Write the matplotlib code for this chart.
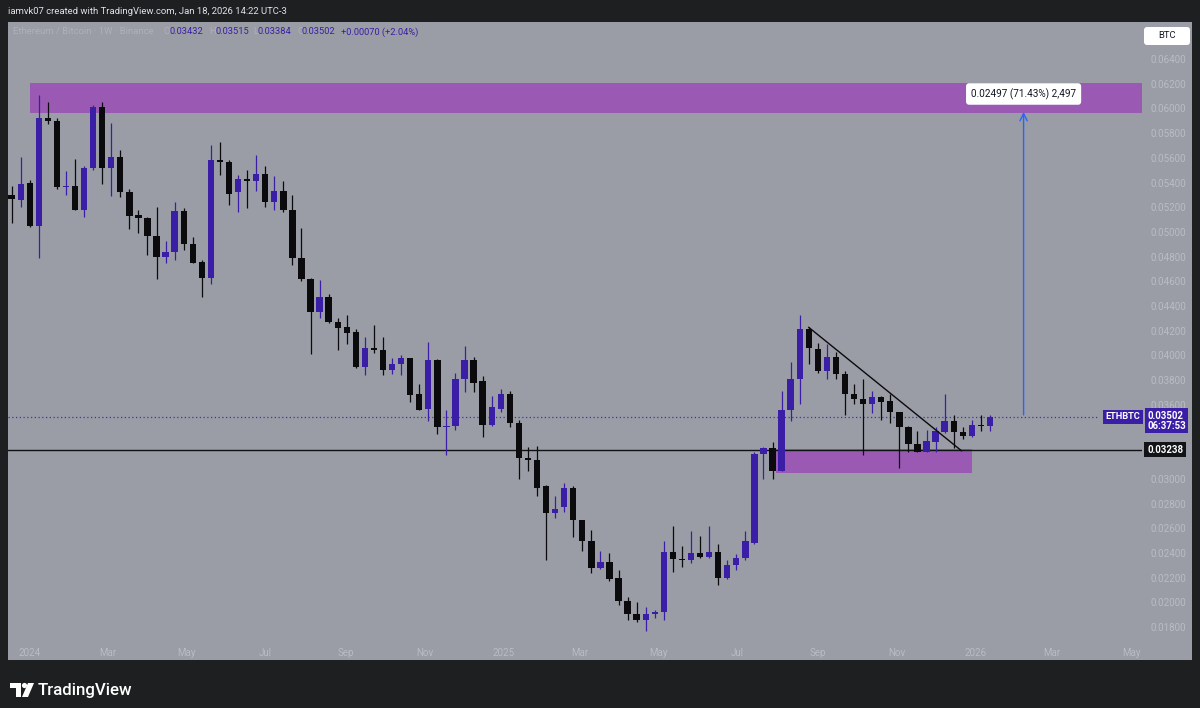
import matplotlib
matplotlib.use("Agg")
import matplotlib.pyplot as plt
from matplotlib.patches import Rectangle, Polygon, Circle, FancyBboxPatch
from matplotlib.transforms import blended_transform_factory
import pandas as pd

# weekly ETH/BTC candles, first bar week of 2023-12-18
first_week = "2023-12-18"
opens = [0.0530, 0.0526, 0.0540, 0.0505, 0.0592, 0.0590, 0.0536, 0.0537, 0.0518, 0.0552,
         0.0601, 0.0552, 0.0561, 0.0532, 0.0514, 0.0511, 0.0497, 0.0480, 0.0484, 0.0517,
         0.0490, 0.0476, 0.0463, 0.0558, 0.0557, 0.0532, 0.0543, 0.0541, 0.0547, 0.0524,
         0.0533, 0.0518, 0.0479, 0.0462, 0.0435, 0.0447, 0.0427, 0.0423, 0.0419, 0.0391,
         0.0406, 0.0404, 0.0388, 0.0393, 0.0398, 0.0369, 0.0357, 0.0396, 0.0342, 0.0343,
         0.0381, 0.0396, 0.0379, 0.0344, 0.0357, 0.0369, 0.0345, 0.0317, 0.0315, 0.0294,
         0.0272, 0.0277, 0.0293, 0.0267, 0.0250, 0.0228, 0.0233, 0.0220, 0.0201, 0.0191,
         0.0186, 0.0191, 0.0192, 0.0241, 0.0235, 0.0234, 0.0240, 0.0237, 0.0241, 0.0220,
         0.0230, 0.0236, 0.0248, 0.0320, 0.0325, 0.0306, 0.0356, 0.0381, 0.0421, 0.0405,
         0.0387, 0.0399, 0.0385, 0.0369, 0.0365, 0.0361, 0.0366, 0.0363, 0.0354, 0.0342,
         0.0328, 0.0322, 0.0330, 0.0338, 0.0347, 0.0338, 0.0335, 0.0344, 0.03432]
highs = [0.0537, 0.0561, 0.0542, 0.0611, 0.0605, 0.0592, 0.0549, 0.0559, 0.0553, 0.0603,
         0.0605, 0.0588, 0.0566, 0.0535, 0.0518, 0.0512, 0.0520, 0.0493, 0.0524, 0.0519,
         0.0496, 0.0477, 0.0570, 0.0573, 0.0558, 0.0546, 0.0550, 0.0562, 0.0553, 0.0545,
         0.0541, 0.0530, 0.0503, 0.0463, 0.0461, 0.0450, 0.0430, 0.0433, 0.0421, 0.0415,
         0.0425, 0.0415, 0.0398, 0.0400, 0.0398, 0.0377, 0.0411, 0.0397, 0.0356, 0.0386,
         0.0408, 0.0399, 0.0383, 0.0367, 0.0373, 0.0371, 0.0348, 0.0326, 0.0327, 0.0295,
         0.0286, 0.0297, 0.0294, 0.0267, 0.0259, 0.0242, 0.0240, 0.0226, 0.0204, 0.0200,
         0.0196, 0.0194, 0.0250, 0.0262, 0.0246, 0.0258, 0.0254, 0.0262, 0.0247, 0.0234,
         0.0239, 0.0258, 0.0322, 0.0326, 0.0330, 0.0371, 0.0395, 0.0433, 0.0423, 0.0410,
         0.0409, 0.0403, 0.0387, 0.0377, 0.0381, 0.0371, 0.0367, 0.0369, 0.0354, 0.0343,
         0.0339, 0.0340, 0.0342, 0.0369, 0.0352, 0.0342, 0.0348, 0.0352, 0.03515]
lows = [0.0507, 0.0520, 0.0504, 0.0479, 0.0587, 0.0535, 0.0530, 0.0518, 0.0512, 0.0550,
        0.0539, 0.0529, 0.0528, 0.0502, 0.0499, 0.0481, 0.0462, 0.0475, 0.0477, 0.0485,
        0.0475, 0.0447, 0.0458, 0.0546, 0.0522, 0.0516, 0.0519, 0.0533, 0.0520, 0.0518,
        0.0516, 0.0473, 0.0460, 0.0401, 0.0430, 0.0426, 0.0404, 0.0409, 0.0390, 0.0384,
        0.0402, 0.0384, 0.0385, 0.0384, 0.0362, 0.0356, 0.0347, 0.0336, 0.0319, 0.0340,
        0.0370, 0.0370, 0.0334, 0.0343, 0.0354, 0.0342, 0.0300, 0.0306, 0.0286, 0.0234,
        0.0268, 0.0273, 0.0253, 0.0242, 0.0224, 0.0227, 0.0217, 0.0198, 0.0186, 0.0184,
        0.0177, 0.0187, 0.0186, 0.0225, 0.0229, 0.0232, 0.0236, 0.0236, 0.0214, 0.0219,
        0.0226, 0.0234, 0.0247, 0.0300, 0.0300, 0.0306, 0.0347, 0.0361, 0.0393, 0.0386,
        0.0381, 0.0381, 0.0352, 0.0361, 0.0319, 0.0353, 0.0348, 0.0345, 0.0309, 0.0322,
        0.0322, 0.0322, 0.0322, 0.0337, 0.0325, 0.0332, 0.0334, 0.0339, 0.03384]
closes = [0.0527, 0.0539, 0.0505, 0.0592, 0.0590, 0.0536, 0.0537, 0.0518, 0.0552, 0.0601,
          0.0552, 0.0561, 0.0532, 0.0513, 0.0511, 0.0497, 0.0480, 0.0484, 0.0517, 0.0490,
          0.0475, 0.0463, 0.0558, 0.0557, 0.0531, 0.0543, 0.0541, 0.0547, 0.0524, 0.0533,
          0.0518, 0.0479, 0.0462, 0.0435, 0.0447, 0.0427, 0.0422, 0.0418, 0.0391, 0.0406,
          0.0404, 0.0388, 0.0393, 0.0398, 0.0368, 0.0356, 0.0396, 0.0342, 0.0343, 0.0381,
          0.0396, 0.0378, 0.0344, 0.0358, 0.0369, 0.0345, 0.0317, 0.0315, 0.0293, 0.0272,
          0.0276, 0.0293, 0.0267, 0.0250, 0.0228, 0.0233, 0.0219, 0.0201, 0.0191, 0.0186,
          0.0191, 0.0192, 0.0241, 0.0235, 0.0234, 0.0240, 0.0237, 0.0241, 0.0220, 0.0230,
          0.0236, 0.0250, 0.0320, 0.0325, 0.0306, 0.0356, 0.0381, 0.0421, 0.0406, 0.0387,
          0.0399, 0.0385, 0.0369, 0.0365, 0.0361, 0.0366, 0.0362, 0.0354, 0.0342, 0.0328,
          0.0322, 0.0331, 0.0339, 0.0347, 0.0338, 0.0335, 0.0344, 0.03432, 0.03502]

# drawings
top_zone_low, top_zone_high = 0.05965, 0.06203
top_zone_start = "2024-01-01"
bottom_zone_low, bottom_zone_high = 0.03047, 0.03241
bottom_zone_start, bottom_zone_end = "2025-07-31", "2025-12-29"
support_level = 0.03238
last_price = 0.03502
trend_dates = ["2025-08-25", "2025-12-21"]
trend_prices = [0.04227, 0.03228]
measure_date = "2026-02-07"
measure_from, measure_to = 0.03496, 0.05993
measure_label = "0.02497 (71.43%) 2,497"

price_ticks = [0.018, 0.020, 0.022, 0.024, 0.026, 0.028, 0.030, 0.036, 0.038, 0.040,
               0.042, 0.044, 0.046, 0.048, 0.050, 0.052, 0.054, 0.056, 0.058, 0.060,
               0.062, 0.064]
month_ticks = ["2024-01-01", "2024-03-01", "2024-05-01", "2024-07-01", "2024-09-01",
               "2024-11-01", "2025-01-01", "2025-03-01", "2025-05-01", "2025-07-01",
               "2025-09-01", "2025-11-01", "2026-01-01", "2026-03-01", "2026-05-01"]
month_labels = ["2024", "Mar", "May", "Jul", "Sep", "Nov", "2025", "Mar", "May", "Jul",
                "Sep", "Nov", "2026", "Mar", "May"]

DARK = "#1e1f21"
PANEL = "#9a9da5"
UP = "#3a1fa6"
DOWN = "#0b0b0d"
ZONE = "#9a5ab4"
AXIS_TXT = "#b9bcc3"

plt.rcParams["font.family"] = ["Roboto", "DejaVu Sans"]

W, H = 1200, 708
fig = plt.figure(figsize=(W / 100, H / 100), dpi=100, facecolor=DARK)

# gray chart panel, behind the axes
fig.patches.append(Rectangle((8 / W, 1 - 660 / H), 1184 / W, 638 / H,
                             transform=fig.transFigure, facecolor=PANEL,
                             edgecolor="none", zorder=-10))

ax = fig.add_axes([8 / W, 1 - 640 / H, 1134 / W, 618 / H], facecolor=PANEL)
for s in ax.spines.values():
    s.set_visible(False)

dates = pd.date_range(first_week, periods=len(opens), freq="W-MON")
x_left = pd.Timestamp("2023-12-15 05:00")
x_right = pd.Timestamp("2026-05-09 12:00")

# zones
ax.add_patch(Rectangle((pd.Timestamp(top_zone_start), top_zone_low),
                       x_right - pd.Timestamp(top_zone_start), top_zone_high - top_zone_low,
                       facecolor=ZONE, edgecolor="none", zorder=1))
ax.add_patch(Rectangle((pd.Timestamp(bottom_zone_start), bottom_zone_low),
                       pd.Timestamp(bottom_zone_end) - pd.Timestamp(bottom_zone_start),
                       bottom_zone_high - bottom_zone_low,
                       facecolor=ZONE, edgecolor="none", zorder=1))

# candles
body_w = pd.Timedelta(days=4.9)
for d, o, h, l, c in zip(dates, opens, highs, lows, closes):
    col = UP if c >= o else DOWN
    ax.vlines(d, l, h, color=col, lw=0.9, zorder=3)
    ax.bar(d, max(abs(c - o), 0.00004), bottom=min(o, c), width=body_w,
           color=col, zorder=4)

# lines
ax.axhline(support_level, color="#111214", lw=1.0, zorder=2)
ax.axhline(last_price, xmax=(1099 - 8) / 1134, color="#3d2fbf", lw=0.9,
           linestyle=(0, (1, 2)), zorder=2)
ax.plot(pd.to_datetime(trend_dates), trend_prices, color="#0b0b0d", lw=1.0, zorder=5)

# measure arrow
md = pd.Timestamp(measure_date)
ax.annotate("", xy=(md, measure_to), xytext=(md, measure_from),
            arrowprops=dict(arrowstyle="->", color="#2962ff", lw=1.0, mutation_scale=13),
            zorder=6)
ax.annotate(measure_label, xy=(md, measure_to), xytext=(0, 11), textcoords="offset points",
            ha="center", va="center", fontsize=7.2, color="#131722", zorder=7,
            bbox=dict(boxstyle="round,pad=0.5,rounding_size=0.3", facecolor="white",
                      edgecolor="none"))

ax.set_xlim(x_left, x_right)
ax.set_ylim(0.016956, 0.066996)

ax.set_xticks(pd.to_datetime(month_ticks))
ax.set_xticklabels(month_labels)
ax.yaxis.tick_right()
ax.set_yticks(price_ticks)
ax.set_yticklabels([f"{p:.5f}" for p in price_ticks])
ax.tick_params(axis="x", length=0, pad=6, labelsize=7.0, labelcolor=AXIS_TXT)
ax.tick_params(axis="y", length=0, pad=6, labelsize=7.1, labelcolor=AXIS_TXT)

# price-scale labels
bt = blended_transform_factory(ax.transAxes, ax.transData)
ax.text(1.0045, last_price - 0.00032, "0.03502\n06:37:53", transform=bt, ha="left",
        va="center", fontsize=6.9, color="white", fontweight="bold", linespacing=1.05,
        bbox=dict(boxstyle="square,pad=0.25", facecolor="#3a1fa6", edgecolor="none"),
        zorder=8, clip_on=False)
ax.text(0.9987, last_price, "ETHBTC", transform=bt, ha="right", va="center",
        fontsize=6.7, color="white", fontweight="bold",
        bbox=dict(boxstyle="square,pad=0.28", facecolor="#3a1fa6", edgecolor="none"),
        zorder=8, clip_on=False)
ax.text(1.0045, support_level, "0.03238", transform=bt, ha="left", va="center",
        fontsize=6.9, color="white", fontweight="bold",
        bbox=dict(boxstyle="square,pad=0.3", facecolor="#121316", edgecolor="none"),
        zorder=8, clip_on=False)

# top header and legend
fig.text(8 / W, 1 - 12 / H, "iamvk07 created with TradingView.com, Jan 18, 2026 14:22 UTC-3",
         color="#e0e3eb", fontsize=6.8, va="center", ha="left")
legend_y = 1 - 32 / H
fig.text(13 / W, legend_y, "Ethereum / Bitcoin \u00b7 1W \u00b7 Binance", color="#aeb1b9",
         fontsize=6.8, va="center")
pieces = [(164, "O", "#aeb1b9"), (170, "0.03432", UP), (209, "H", "#aeb1b9"),
          (215, "0.03515", UP), (253, "L", "#aeb1b9"), (258, "0.03384", UP),
          (297, "C", "#aeb1b9"), (302, "0.03502", UP), (341, "+0.00070 (+2.04%)", UP)]
for px, s, c in pieces:
    fig.text(px / W, legend_y, s, color=c, fontsize=6.7, va="center")

# currency button
fig.patches.append(FancyBboxPatch((1144, H - 45), 46, 18,
                                  boxstyle="round,pad=0,rounding_size=3", transform=None,
                                  facecolor="white", edgecolor="none", zorder=5))
fig.text(1167 / W, 1 - 36 / H, "BTC", color="#131722", fontsize=6.8, ha="center",
         va="center", zorder=6)

# TradingView logo
fig.add_artist(Polygon([(10, H - 683), (21, H - 683), (21, H - 697), (15.5, H - 697),
                        (15.5, H - 688), (10, H - 688)], closed=True, transform=None,
                       facecolor="white", edgecolor="none"))
fig.add_artist(Circle((24.5, H - 685.5), 2.6, transform=None, facecolor="white",
                      edgecolor="none"))
fig.add_artist(Polygon([(28, H - 683), (34, H - 683), (28, H - 697), (22, H - 697)],
                       closed=True, transform=None, facecolor="white", edgecolor="none"))
fig.text(38 / W, 1 - 690 / H, "TradingView", color="white", fontsize=12.2,
         fontweight="medium", va="center", ha="left")

fig.savefig("out.png", dpi=100, facecolor=DARK)
